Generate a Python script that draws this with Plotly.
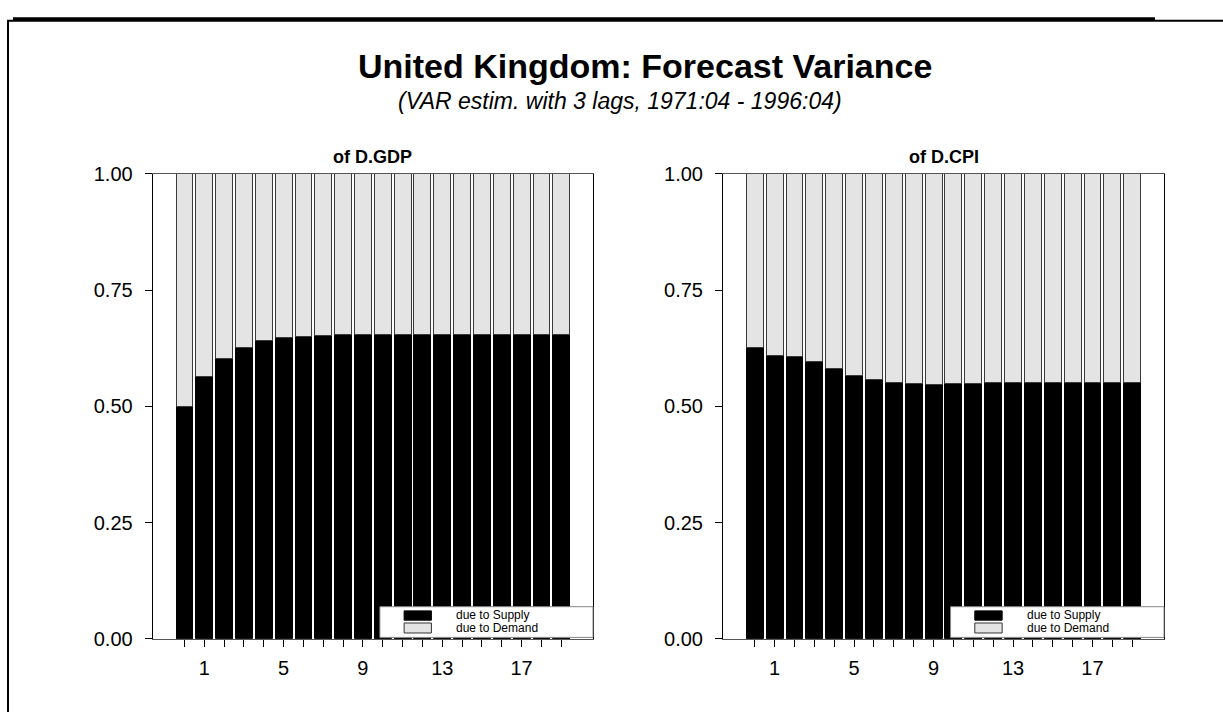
import plotly.graph_objects as go

# ---- data ----
horizons = list(range(20))
gdp_supply = [0.500, 0.565, 0.603, 0.627, 0.641, 0.648, 0.651, 0.653, 0.654, 0.654,
              0.654, 0.655, 0.655, 0.655, 0.655, 0.655, 0.655, 0.655, 0.655, 0.655]
cpi_supply = [0.627, 0.610, 0.608, 0.596, 0.581, 0.567, 0.557, 0.552, 0.549, 0.548,
              0.549, 0.550, 0.551, 0.551, 0.551, 0.551, 0.551, 0.551, 0.551, 0.551]
gdp_demand = [round(1 - v, 3) for v in gdp_supply]
cpi_demand = [round(1 - v, 3) for v in cpi_supply]
x_tick_labels = ["", "1", "", "", "", "5", "", "", "", "9", "", "", "", "13", "", "", "", "17", "", ""]
y_tick_vals = [0, 0.25, 0.5, 0.75, 1.0]
y_tick_labels = ["0.00", "0.25", "0.50", "0.75", "1.00"]
panel_titles = ["of D.GDP", "of D.CPI"]
legend_labels = ["due to Supply", "due to Demand"]

W, H = 1223, 723
FONT = "Liberation Sans, Arial, sans-serif"

fig = go.Figure()
panels = [("x", "y", gdp_supply, gdp_demand), ("x2", "y2", cpi_supply, cpi_demand)]
for xa, ya, sup, dem in panels:
    fig.add_trace(go.Bar(x=horizons, y=sup, xaxis=xa, yaxis=ya, name=legend_labels[0],
                         marker=dict(color="#000000", line=dict(color="#000000", width=1)),
                         showlegend=False, hoverinfo="skip"))
    fig.add_trace(go.Bar(x=horizons, y=dem, xaxis=xa, yaxis=ya, name=legend_labels[1],
                         marker=dict(color="#e4e4e4", line=dict(color="#3a3a3a", width=1)),
                         showlegend=False, hoverinfo="skip"))

ydom = [(723 - 647.5) / H, (723 - 168) / H]
xdoms = [[152.7 / W, 593 / W], [723 / W, 1164 / W]]

xcommon = dict(range=[-1.6, 20.6], tickmode="array", tickvals=horizons, ticktext=x_tick_labels,
               ticks="outside", ticklen=7, tickcolor="#000", tickwidth=1, ticklabelstandoff=4,
               showline=True, linecolor="#555", linewidth=1, mirror=True,
               showgrid=False, zeroline=False, fixedrange=True,
               tickfont=dict(family=FONT, size=20, color="#000"))
ycommon = dict(range=[0, 1], tickmode="array", tickvals=y_tick_vals, ticktext=y_tick_labels,
               ticks="outside", ticklen=7, tickcolor="#000", tickwidth=1, ticklabelstandoff=8,
               showline=True, linecolor="#000", linewidth=1, mirror=True,
               showgrid=False, zeroline=False, fixedrange=True,
               tickfont=dict(family=FONT, size=20, color="#000"))

fig.update_layout(
    width=W, height=H, margin=dict(l=0, r=0, t=0, b=0),
    paper_bgcolor="white", plot_bgcolor="white",
    barmode="stack", bargap=0.15, showlegend=False,
    xaxis=dict(domain=xdoms[0], anchor="y", **xcommon),
    yaxis=dict(domain=ydom, anchor="x", **ycommon),
    xaxis2=dict(domain=xdoms[1], anchor="y2", **xcommon),
    yaxis2=dict(domain=ydom, anchor="x2", **ycommon),
)

shapes = []
annotations = []
# outer frame lines
shapes.append(dict(type="line", xref="paper", yref="paper", x0=7 / W, x1=1, y0=1 - 10 / H, y1=1 - 10 / H,
                   line=dict(color="#000", width=2)))
shapes.append(dict(type="line", xref="paper", yref="paper", x0=8 / W, x1=8 / W, y0=0, y1=1 - 10 / H,
                   line=dict(color="#000", width=2)))
shapes.append(dict(type="line", xref="paper", yref="paper", x0=13 / W, x1=1155 / W, y0=1 - 8 / H, y1=1 - 8 / H,
                   line=dict(color="#000", width=3)))

for i, xa in enumerate(["x", "x2"]):
    ya = "y" if i == 0 else "y2"
    xr, yr = xa + " domain", ya + " domain"
    shapes.append(dict(type="rect", xref=xr, yref=yr, x0=0.516, x1=1.0, y0=0.003, y1=0.069,
                       fillcolor="white", line=dict(color="#888", width=1), layer="above"))
    shapes.append(dict(type="rect", xref=xr, yref=yr, x0=0.571, x1=0.633, y0=0.040, y1=0.060,
                       fillcolor="#000", line=dict(color="#000", width=1), layer="above"))
    shapes.append(dict(type="rect", xref=xr, yref=yr, x0=0.571, x1=0.633, y0=0.0125, y1=0.034,
                       fillcolor="#e4e4e4", line=dict(color="#333", width=1), layer="above"))
    annotations.append(dict(xref=xr, yref=yr, x=0.685, y=0.051, text=legend_labels[0], showarrow=False,
                            xanchor="left", yanchor="middle", font=dict(family=FONT, size=12, color="#000")))
    annotations.append(dict(xref=xr, yref=yr, x=0.685, y=0.024, text=legend_labels[1], showarrow=False,
                            xanchor="left", yanchor="middle", font=dict(family=FONT, size=12, color="#000")))
    annotations.append(dict(xref=xr, yref="paper", x=0.5, y=1 - 151 / H, text="<b>" + panel_titles[i] + "</b>",
                            showarrow=False, xanchor="center", yanchor="middle",
                            font=dict(family=FONT, size=18, color="#000")))

annotations.append(dict(xref="paper", yref="paper", x=645 / W, y=1 - 57 / H,
                        text="<b>United Kingdom: Forecast Variance</b>", showarrow=False,
                        xanchor="center", yanchor="middle", font=dict(family=FONT, size=34, color="#000")))
annotations.append(dict(xref="paper", yref="paper", x=620 / W, y=1 - 93 / H,
                        text="<i>(VAR estim. with 3 lags, 1971:04 - 1996:04)</i>", showarrow=False,
                        xanchor="center", yanchor="middle", font=dict(family=FONT, size=23, color="#000")))

fig.update_layout(shapes=shapes, annotations=annotations)
fig.write_html("out.html", config={"displayModeBar": False, "staticPlot": True},
               post_script="document.body.style.margin='0px';document.body.style.padding='0px';")
